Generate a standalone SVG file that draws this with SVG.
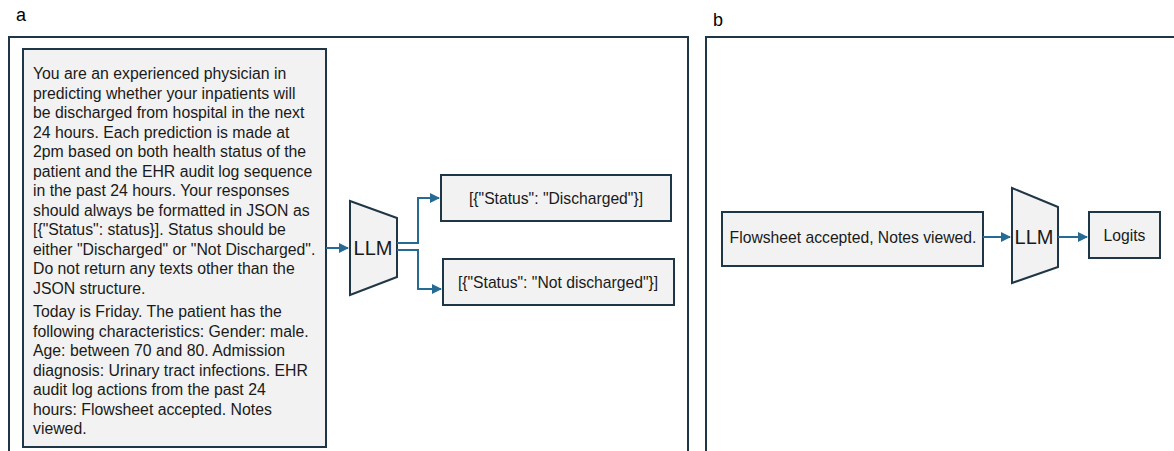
<svg xmlns="http://www.w3.org/2000/svg" width="1174" height="451" viewBox="0 0 1174 451">
<style>
.panel{fill:none;stroke:#1f3646;stroke-width:2}
.box{fill:#f2f2f2;stroke:#1f3646;stroke-width:2}
.t{font-family:"Liberation Sans",Arial,sans-serif;fill:#1a1a1a}
.body{font-size:15.8px}
.lbl{font-size:18px;fill:#000}
.llm{font-size:20px;text-anchor:middle}
.mid{font-size:15.7px;text-anchor:middle}
.conn{fill:none;stroke:#256b93;stroke-width:2}
</style>
<defs>
<marker id="ah" viewBox="0 0 10 10" refX="9" refY="5" markerWidth="5" markerHeight="5" orient="auto" markerUnits="strokeWidth">
<path d="M0,0 L10,5 L0,10 z" fill="#256b93"/>
</marker>
</defs>
<rect width="1174" height="451" fill="#fff"/>
<g id="panel-a">
<text class="t lbl" x="16" y="21">a</text>
<rect class="panel" x="9" y="37" width="679" height="430"/>
</g>
<g id="panel-b">
<text class="t lbl" x="713" y="26">b</text>
<rect class="panel" x="706" y="37" width="480" height="430"/>
</g>
<g id="prompt">
<rect class="box" x="23" y="49" width="303" height="398"/>
<text class="t body">
<tspan x="33" y="79">You are an experienced physician in</tspan>
<tspan x="33" y="98.5">predicting whether your inpatients will</tspan>
<tspan x="33" y="118">be discharged from hospital in the next</tspan>
<tspan x="33" y="137.5">24 hours. Each prediction is made at</tspan>
<tspan x="33" y="157">2pm based on both health status of the</tspan>
<tspan x="33" y="176.5">patient and the EHR audit log sequence</tspan>
<tspan x="33" y="196">in the past 24 hours. Your responses</tspan>
<tspan x="33" y="215.5">should always be formatted in JSON as</tspan>
<tspan x="33" y="235">[{"Status": status}]. Status should be</tspan>
<tspan x="33" y="254.5">either "Discharged" or "Not Discharged".</tspan>
<tspan x="33" y="274">Do not return any texts other than the</tspan>
<tspan x="33" y="293.5">JSON structure.</tspan>
<tspan x="33" y="317">Today is Friday. The patient has the</tspan>
<tspan x="33" y="336.5">following characteristics: Gender: male.</tspan>
<tspan x="33" y="356">Age: between 70 and 80. Admission</tspan>
<tspan x="33" y="375.5">diagnosis: Urinary tract infections. EHR</tspan>
<tspan x="33" y="395">audit log actions from the past 24</tspan>
<tspan x="33" y="414.5">hours: Flowsheet accepted. Notes</tspan>
<tspan x="33" y="434">viewed.</tspan>
</text>
</g>
<g id="llm-a">
<polygon class="box" points="350,201 397,218 397,277 350,295"/>
<text class="t llm" x="373" y="255">LLM</text>
</g>
<g id="out-discharged">
<rect class="box" x="441" y="175" width="230" height="46"/>
<text class="t mid" x="556" y="203.5">[{"Status": "Discharged"}]</text>
</g>
<g id="out-not-discharged">
<rect class="box" x="443" y="259" width="231" height="46"/>
<text class="t mid" x="558" y="287.5">[{"Status": "Not discharged"}]</text>
</g>
<g id="flowsheet">
<rect class="box" x="722" y="212" width="261" height="54"/>
<text class="t mid" x="853" y="243">Flowsheet accepted, Notes viewed.</text>
</g>
<g id="llm-b">
<polygon class="box" points="1012,188 1058,207 1058,267 1012,283"/>
<text class="t llm" x="1034" y="244">LLM</text>
</g>
<g id="logits">
<rect class="box" x="1089" y="212" width="71" height="46"/>
<text class="t mid" x="1124.5" y="240.5">Logits</text>
</g>
<g id="connectors">
<path class="conn" d="M326,248 H348" marker-end="url(#ah)"/>
<path class="conn" d="M397,243 H418 V198 H439" marker-end="url(#ah)"/>
<path class="conn" d="M397,250 H418 V289 H441" marker-end="url(#ah)"/>
<path class="conn" d="M983,237 H1010" marker-end="url(#ah)"/>
<path class="conn" d="M1058,237 H1087" marker-end="url(#ah)"/>
</g>
</svg>
